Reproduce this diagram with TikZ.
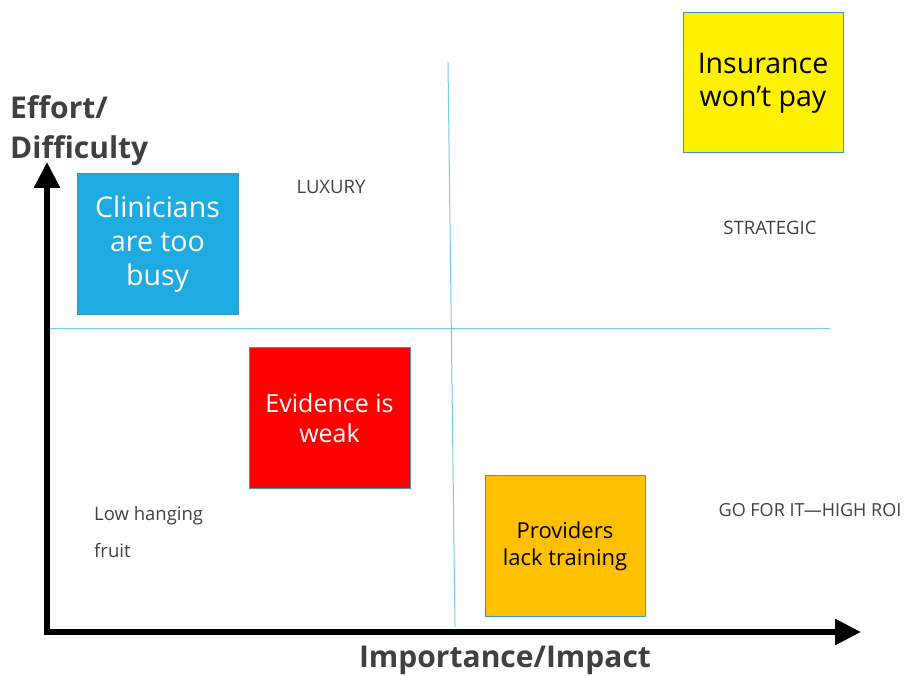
\documentclass[tikz,border=0pt]{standalone}
\usepackage{fontspec}
\setmainfont{Open Sans}
\usetikzlibrary{arrows.meta}
\definecolor{skyfill}{RGB}{29,171,226}
\definecolor{boxline}{RGB}{65,150,190}
\definecolor{gridline}{RGB}{120,200,235}
\definecolor{orangefill}{RGB}{255,192,0}
\definecolor{labelgray}{RGB}{64,64,64}
\tikzset{
  quadbox/.style={draw=boxline,line width=1pt,minimum width=161pt,minimum height=141pt,align=center,inner sep=0pt},
  zone/.style={text=labelgray,font=\fontsize{18.5}{22}\selectfont,inner sep=0pt},
  axislabel/.style={text=labelgray,font=\bfseries\fontsize{30}{40}\selectfont,inner sep=0pt},
  axis/.style={line width=6pt,-{Triangle[width=25pt,length=26pt]}}
}
\begin{document}
\begin{tikzpicture}[x=1pt,y=-1pt]
\useasboundingbox (0,0) rectangle (906,676);
% quadrant grid
\coordinate (gtop) at (448,62);
\coordinate (gbot) at (455,627);
\coordinate (gleft) at (48,329);
\coordinate (gright) at (830,329);
\draw[gridline,line width=1pt] (gtop) -- (gbot);
\draw[gridline,line width=1pt] (gleft) -- (gright);
% axes
\coordinate (origin) at (47,635);
\coordinate (ytip) at (47,162);
\coordinate (xtip) at (861,632);
\coordinate (xstart) at (44,632);
\draw[axis] (origin) -- (ytip);
\draw[axis] (xstart) -- (xtip);
\node[axislabel,anchor=west,align=left] (ylab) at (10,131) {Effort/\\Difficulty};
\node[axislabel] (xlab) at (505,660) {Importance/Impact};
% zone labels
\node[zone] (luxury) at (331,187) {LUXURY};
\node[zone] (strategic) at (770,228) {STRATEGIC};
\node[zone,anchor=west,align=left,font=\fontsize{18.5}{37}\selectfont] (lowfruit) at (94,532) {Low hanging\\fruit};
\node[zone,font=\fontsize{18}{22}\selectfont] (goforit) at (810,510) {GO FOR IT—HIGH ROI};
% issue boxes
\node[quadbox,fill=skyfill,text=white,font=\fontsize{28.5}{34}\selectfont,text depth=7pt] (busy) at (157.5,244.5) {Clinicians\\are too\\busy};
\node[quadbox,fill=yellow,text=black,font=\fontsize{28.5}{33}\selectfont,text depth=7pt,minimum width=160pt,minimum height=140pt] (insurance) at (763,83) {Insurance\\won’t pay};
\node[quadbox,fill=red,text=white,font=\fontsize{25}{30}\selectfont] (evidence) at (329.5,418.5) {Evidence is\\weak};
\node[quadbox,fill=orangefill,text=black,font=\fontsize{22}{27}\selectfont,minimum width=160pt,minimum height=140pt] (training) at (565,546) {Providers\\lack training};
\end{tikzpicture}
\end{document}
